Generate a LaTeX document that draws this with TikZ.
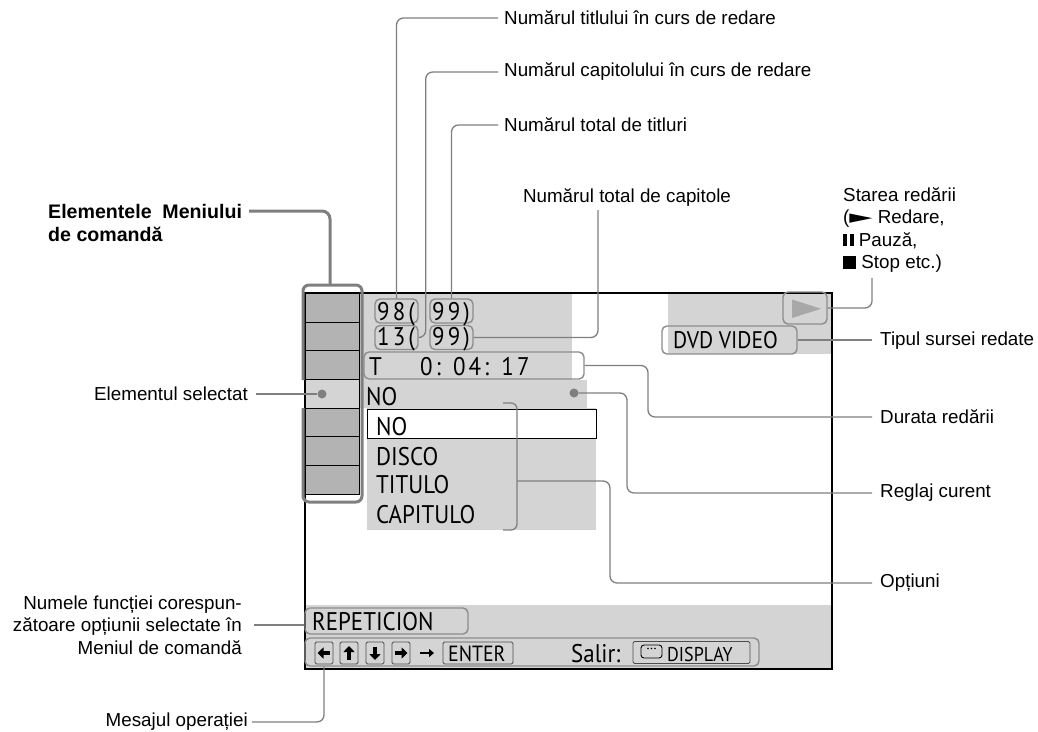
\documentclass[tikz,border=0pt]{standalone}
\usepackage{fontspec}
\setmainfont{Liberation Sans}
\newfontfamily\scr{PT Sans}[FakeStretch=0.9]
\newfontfamily\scrsp{PT Sans}[FakeStretch=0.9,LetterSpace=12]
\newfontfamily\dejavu{DejaVu Sans}
\usetikzlibrary{arrows.meta,calc}
\definecolor{ldr}{HTML}{7F7F7F}
\definecolor{scrgray}{HTML}{D4D4D4}
\definecolor{cellgray}{HTML}{B3B3B3}
\definecolor{boxgray}{HTML}{8C8C8C}
\definecolor{trigray}{HTML}{A8A8A8}
\begin{document}
\begin{tikzpicture}[x=1pt,y=-1pt,
  leader/.style={draw=ldr, line width=1.3pt, rounded corners=7pt},
  thickleader/.style={draw=ldr, line width=3pt, rounded corners=8pt},
  lbl/.style={font=\fontsize{18.8}{22.5}\selectfont, inner sep=0pt},
  boldlbl/.style={font=\fontsize{19.6}{23}\selectfont\bfseries, inner sep=0pt, anchor=west},
  scrtxt/.style={font=\scr\fontsize{25.5}{29}\selectfont, inner sep=0pt, anchor=base west},
  smalltxt/.style={font=\scr\fontsize{20}{24}\selectfont, inner sep=0pt, anchor=base west},
  digtxt/.style={font=\scrsp\fontsize{25.5}{29}\selectfont, inner sep=0pt, anchor=base west},
  rbox/.style={draw=boxgray, line width=1.4pt, rounded corners=5pt, inner sep=0pt},
  keybox/.style={draw=black!70, line width=0.9pt, rounded corners=1.5pt, inner sep=0pt, minimum width=18pt, minimum height=22pt},
  cellbox/.style={draw=black, line width=0.9pt, inner sep=0pt, minimum width=54pt, minimum height=28.7pt},
  dotmark/.style={circle, fill=ldr, inner sep=0pt, minimum size=9pt},
  keyarrow/.style={line width=3.2pt, -{Triangle[length=6pt,width=11pt]}}
]
\useasboundingbox (0,0) rectangle (1038,731);

% screen backgrounds
\fill[scrgray] (359,293) rectangle (572,380);
\fill[scrgray] (359,380) rectangle (587,408);
\fill[scrgray] (367,408) rectangle (596,530);
\fill[scrgray] (668,293) rectangle (832,354);
\fill[scrgray] (305,605) rectangle (832,669);
\draw[line width=1.2pt] (305,293) rectangle (832,669);

% menu bar cells
\foreach \i/\c in {0/cellgray,1/cellgray,2/cellgray,3/scrgray,4/cellgray,5/cellgray,6/cellgray}{
  \node[cellbox, fill=\c] (cell\i) at (332,{307.65+28.7*\i}) {};
}
\draw[thickleader, rounded corners=6pt] (303,408) -- (303,502) -- (362,502) -- (362,285) -- (303,285) -- (303,380);
\coordinate (barTop) at (330,285);

% top info
\node[rbox, minimum width=43pt, minimum height=24pt] (b98) at (396.5,311) {};
\node[rbox, minimum width=43pt, minimum height=24pt] (b99a) at (451.5,311) {};
\node[rbox, minimum width=43pt, minimum height=24pt] (b13) at (396.5,337.5) {};
\node[rbox, minimum width=43pt, minimum height=24pt] (b99b) at (451.5,337.5) {};
\node[digtxt] (tx98) at (377,320) {98(};
\node[digtxt] (tx99a) at (432,320) {99)};
\node[digtxt] (tx13) at (377,345.5) {13(};
\node[digtxt] (tx99b) at (432,345.5) {99)};
\node[rbox, minimum width=220pt, minimum height=27pt] (timeb) at (474,365.5) {};
\node[scrtxt] (txT) at (369,375) {T};
\node[digtxt] (txtime) at (420,375) {0: 04: 17};

% current setting and options
\node[scrtxt] (cur) at (366,405) {NO};
\node[dotmark] (curdot) at (574,393) {};
\node[draw=black, fill=white, line width=0.8pt, minimum width=229pt, minimum height=29pt, inner sep=0pt] (selopt) at (481.5,423.5) {};
\node[scrtxt] (o1) at (376,435) {NO};
\node[scrtxt] (o2) at (376,465) {DISCO};
\node[scrtxt] (o3) at (376,493) {TITULO};
\node[scrtxt] (o4) at (376,523) {CAPITULO};

% top right
\node[rbox, minimum width=44pt, minimum height=32pt] (play) at (805,308) {};
\fill[trigray] (792,299.5) -- (792,318) -- (821,308.75) -- cycle;
\node[rbox, minimum width=135pt, minimum height=28pt] (dvd) at (729.5,340) {};
\node[scrtxt, font=\scr\fontsize{24}{28}\selectfont] (txdvd) at (673,348) {DVD VIDEO};

% bottom
\node[rbox, minimum width=163pt, minimum height=26pt] (rep) at (386.5,621) {};
\node[scrtxt] (txrep) at (312,630) {REPETICION};
\node[rbox, minimum width=454pt, minimum height=28pt] (msg) at (532,652) {};
\node[keybox] (k1) at (324,653) {};
\node[keybox] (k2) at (349,653) {};
\node[keybox] (k3) at (375,653) {};
\node[keybox] (k4) at (401,653) {};
\draw[keyarrow] ([xshift=6pt]k1.center) -- ([xshift=-6.5pt]k1.center);
\draw[keyarrow] ([yshift=-6.5pt]k2.center) -- ([yshift=7pt]k2.center);
\draw[keyarrow] ([yshift=6.5pt]k3.center) -- ([yshift=-7pt]k3.center);
\draw[keyarrow] ([xshift=-6pt]k4.center) -- ([xshift=6.5pt]k4.center);
\draw[line width=2pt, -{Triangle[length=5pt,width=8pt]}] (420,653) -- (434,653);
\node[keybox, minimum width=70pt] (enter) at (478,653) {};
\node[smalltxt, font=\scr\fontsize{22}{26}\selectfont] (txenter) at (448,661) {ENTER};
\node[scrtxt] (txsalir) at (571,662) {Salir:};
\node[keybox, minimum width=117pt] (disp) at (691.5,652.5) {};
\draw[line width=0.9pt, rounded corners=3pt] (641,645) rectangle (662,658);
\foreach \dx in {648,651.5,655} \fill (\dx,648.5) circle (0.9);
\node[smalltxt] (txdisp) at (667,661) {DISPLAY};

% labels
\node[lbl, anchor=west] (t1) at (504,18) {Numărul titlului în curs de redare};
\node[lbl, anchor=west] (t2) at (504,72) {Numărul capitolului în curs de redare};
\node[lbl, anchor=west] (t3) at (504,125) {Numărul total de titluri};
\node[lbl] (cap) at (627,198) {Numărul total de capitole};
\coordinate (capEnd) at (598,210);
\node[boldlbl] (elem1) at (48,211) {Elementele\hspace{0.55em}Meniului};
\node[boldlbl] (elem2) at (48,234) {de comandă};
\node[lbl, anchor=east] (sel) at (248,394) {Elementul selectat};
\node[lbl, anchor=east, align=right] (fn) at (242,625) {Numele funcției corespun-\\zătoare opțiunii selectate în\\Meniul de comandă};
\node[lbl, anchor=east] (mes) at (248,722) {Mesajul operației};
\node[lbl, anchor=north west, align=left] (stat) at (843,187) {Starea redării\\(\scalebox{1.6}[1]{\dejavu ►}\ Redare,\\\rule{4pt}{12pt}\hspace{2.5pt}\rule{4pt}{12pt} Pauză,\\\rule{13pt}{13pt} Stop etc.)};
\coordinate (statEnd) at (872,278);
\node[lbl, anchor=west] (tip) at (880,341) {Tipul sursei redate};
\node[lbl, anchor=west] (dur) at (880,417) {Durata redării};
\node[lbl, anchor=west] (reg) at (880,493) {Reglaj curent};
\node[lbl, anchor=west] (opt) at (880,583) {Opțiuni};
\node[dotmark] (seldot) at (322,394) {};
\coordinate (brTop) at (503,403);
\coordinate (brMid) at (517,481);
\coordinate (brBot) at (503,530);

% connectors
\draw[thickleader] ([xshift=7pt]elem1.east) -| (barTop);
\draw[leader] ([xshift=-6pt]t1.west) -| (b98.north);
\draw[leader] ([xshift=-6pt]t2.west) -| ([xshift=7pt]b13.east) -- (b13.east);
\draw[leader] ([xshift=-6pt]t3.west) -| (b99a.north);
\draw[leader] (capEnd) |- (b99b.east);
\draw[leader] (play.east) -| (statEnd);
\draw[leader] (dvd.east) -- ([xshift=-8pt]tip.west |- dvd.east);
\draw[leader] (timeb.east) -| ([xshift=-232pt]dur.west) -- ([xshift=-8pt]dur.west);
\draw[leader] (curdot) -| ([xshift=-253pt]reg.west) -- ([xshift=-8pt]reg.west);
\draw[leader, rounded corners=6pt] (brTop) -| (brMid) |- (brBot);
\draw[leader] (brMid) -| ([xshift=-270pt]opt.west) -- ([xshift=-8pt]opt.west);
\draw[leader] ([xshift=8pt]sel.east) -- (seldot);
\draw[leader] ([xshift=12pt]fn.east) -- (fn.east -| rep.west);
\draw[leader] ([xshift=4pt]mes.east) -| (k1.center |- msg.south);
\end{tikzpicture}
\end{document}
